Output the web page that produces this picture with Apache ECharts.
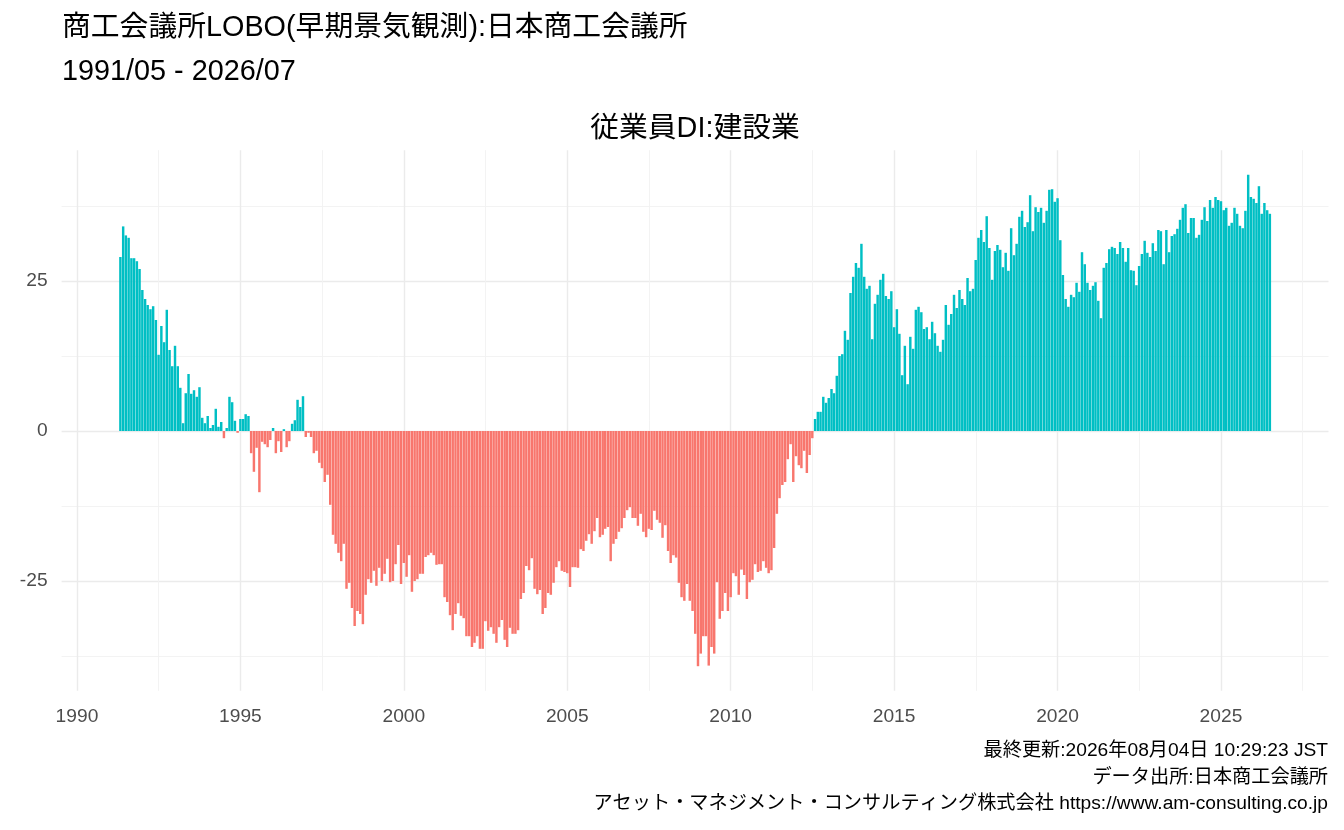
<!DOCTYPE html>
<html lang="ja">
<head>
<meta charset="utf-8">
<title>従業員DI:建設業</title>
<script src="https://cdn.jsdelivr.net/npm/echarts@6/dist/echarts.min.js"></script>
<style>
  html, body { margin: 0; padding: 0; background: #fff; }
  #main { width: 1344px; height: 830px; }
</style>
</head>
<body>
<div id="main"></div>
<script type="text/javascript">
  // 商工会議所LOBO 従業員DI(建設業) 月次 1991/05 - 2026/07
  var startYear = 1991;
  var startMonth = 5;

  var di1990s = [
    29.0, 34.1, 32.6, 32.2, 28.8, 28.8, 28.3, 27.0,
    23.5, 22.0, 21.0, 20.3, 20.8, 18.5, 12.7, 17.5, 14.8, 20.2, 13.5, 10.8,
    14.2, 10.8, 7.2, 1.3, 6.3, 9.5, 6.2, 6.8, 5.7, 7.3, 2.2, 1.3,
    2.5, 0.5, 1.0, 3.7, 0.7, 1.5, -1.2, 0.5, 5.7, 4.8, 1.7, -0.3,
    2.0, 2.0, 2.8, 2.5, -3.7, -6.8, -2.8, -10.2, -1.8, -2.2, -2.7, -1.5,
    0.5, -3.7, -1.7, -3.5, 0.3, -2.7, -1.7, 1.2, 1.8, 5.2, 4.0, 5.8,
    -1.0, -0.3, -1.0, -3.7, -3.3, -5.3, -6.2, -8.5, -7.3, -12.3, -17.3, -18.8,
    -20.3, -21.7, -18.8, -26.3, -25.3, -29.5, -32.5, -30.0, -30.5, -32.2, -27.3, -24.7,
    -25.3, -23.3, -25.8, -22.8, -25.0, -23.8, -21.3, -25.2, -25.0, -22.2, -19.0, -25.5
  ];
  var di2000s = [
    -22.0, -24.3, -20.7, -26.8, -25.0, -24.7, -23.8, -23.8, -21.0, -20.7, -20.3, -20.7,
    -22.3, -22.2, -22.2, -27.7, -28.5, -30.7, -33.2, -30.5, -28.7, -30.8, -31.2, -34.2,
    -34.2, -36.0, -35.3, -34.2, -36.3, -36.3, -31.7, -33.3, -32.7, -33.8, -35.3, -32.7,
    -31.5, -34.8, -36.0, -32.8, -33.8, -33.8, -33.2, -28.0, -27.0, -22.5, -23.2, -21.2,
    -26.3, -27.2, -26.5, -30.5, -29.5, -27.0, -27.3, -25.3, -22.7, -21.7, -23.3, -23.5,
    -23.7, -26.0, -22.7, -22.7, -22.8, -19.7, -20.0, -18.3, -17.2, -18.8, -16.7, -14.5,
    -17.7, -17.3, -16.3, -16.0, -21.7, -18.8, -18.0, -16.8, -16.2, -14.5, -13.2, -12.7,
    -14.5, -14.5, -15.8, -13.8, -16.8, -17.7, -16.3, -16.5, -13.3, -14.8, -15.3, -17.8,
    -15.7, -20.0, -22.0, -20.7, -21.1, -25.3, -27.7, -28.3, -25.5, -28.3, -30.0, -33.8,
    -39.2, -37.1, -34.2, -34.2, -39.1, -36.0, -37.1, -25.2, -31.3, -30.0, -27.0, -30.0
  ];
  var di2010s = [
    -27.7, -23.7, -24.2, -27.3, -23.1, -24.0, -28.0, -25.2, -24.8, -22.2, -23.5, -23.3,
    -21.7, -22.8, -23.7, -23.2, -19.5, -13.8, -11.2, -9.0, -8.5, -4.7, -2.2, -8.5,
    -4.2, -5.7, -6.2, -3.3, -7.0, -4.0, -1.2, 2.0, 3.2, 3.2, 5.7, 4.7,
    5.5, 7.0, 6.3, 9.2, 12.5, 12.8, 16.7, 15.2, 23.0, 25.7, 28.0, 27.2,
    31.2, 25.7, 23.7, 24.2, 15.3, 21.2, 22.7, 25.2, 26.2, 22.5, 22.0, 23.3,
    17.3, 20.3, 16.2, 9.3, 14.2, 7.8, 15.7, 13.7, 20.2, 20.7, 19.8, 17.0,
    17.3, 15.3, 18.2, 16.3, 14.2, 13.2, 15.2, 21.0, 17.7, 19.5, 22.7, 20.5,
    23.5, 22.0, 21.0, 25.5, 23.3, 23.7, 28.5, 32.2, 33.5, 31.5, 35.8, 30.5,
    25.2, 30.0, 31.0, 30.2, 27.3, 29.7, 26.7, 33.8, 29.3, 31.2, 35.7, 36.7,
    34.0, 34.8, 39.3, 33.3, 37.3, 36.5, 37.2, 34.7, 36.7, 40.2, 40.3, 38.2
  ];
  var di2020s = [
    38.8, 31.8, 26.0, 22.0, 20.7, 22.7, 22.3, 24.7, 23.2, 29.8, 27.8, 24.7,
    23.5, 24.2, 24.8, 21.7, 18.8, 27.2, 28.0, 30.3, 30.7, 30.5, 29.5, 31.5,
    30.5, 28.2, 30.5, 26.8, 26.7, 24.3, 27.5, 29.5, 31.7, 29.7, 29.0, 31.3,
    30.0, 33.5, 33.3, 27.8, 33.5, 29.8, 32.5, 32.8, 33.7, 35.2, 37.2, 37.8,
    33.0, 35.5, 35.5, 32.2, 32.7, 35.2, 37.3, 35.0, 38.5, 37.2, 39.0, 38.5,
    38.3, 36.8, 37.2, 34.2, 34.7, 37.2, 36.2, 34.2, 33.8, 36.7, 42.7, 39.0,
    38.7, 38.0, 40.8, 36.2, 38.0, 36.8, 36.2
  ];

  var xTicks = [1990, 1995, 2000, 2005, 2010, 2015, 2020, 2025];
  var xMinorTicks = [1992.5, 1997.5, 2002.5, 2007.5, 2012.5, 2017.5, 2022.5, 2027.5];
  var yTicks = [-25, 0, 25];
  var yMinorTicks = [-37.5, -12.5, 12.5, 37.5];

  var titleText = '商工会議所LOBO(早期景気観測):日本商工会議所';
  var periodText = '1991/05 - 2026/07';
  var chartTitle = '従業員DI:建設業';
  var captionLines = [
    '最終更新:2026年08月04日 10:29:23 JST',
    'データ出所:日本商工会議所',
    'アセット・マネジメント・コンサルティング株式会社 https://www.am-consulting.co.jp'
  ];

  var fontFamily = '"Liberation Sans", "Noto Sans CJK JP", sans-serif';
  var posColor = '#00BFC4';
  var negColor = '#F8766D';

  // 月初日を小数の年に
  function yearFrac(y, m) {
    var t0 = Date.UTC(y, 0, 1), t1 = Date.UTC(y + 1, 0, 1);
    return y + (Date.UTC(y, m - 1, 1) - t0) / (t1 - t0);
  }

  var allValues = di1990s.concat(di2000s, di2010s, di2020s);
  var seriesData = allValues.map(function(v, i) {
    var k = startMonth - 1 + i;
    var y = startYear + Math.floor(k / 12);
    var m = k % 12 + 1;
    return [yearFrac(y, m), v];
  });

  var xMin = 1989.53, xMax = 2028.29;
  var yMin = -43.3, yMax = 46.8;

  var chart = echarts.init(document.getElementById('main'));

  function textEl(x, y, text, size, align) {
    return {
      type: 'text', x: x, y: y,
      style: { text: text, fill: '#000', fontSize: size, fontFamily: fontFamily, align: align, verticalAlign: 'middle' }
    };
  }

  var option = {
    animation: false,
    backgroundColor: '#fff',
    textStyle: { fontFamily: fontFamily },
    grid: { left: 61.6, right: 15.5, top: 150.2, bottom: 139.2, containLabel: false, outerBoundsMode: 'none' },
    xAxis: [
      {
        type: 'value', min: xMin, max: xMax,
        axisLine: { show: false },
        axisTick: { show: false, customValues: xTicks },
        axisLabel: {
          customValues: xTicks, color: '#4D4D4D', fontSize: 19.2, margin: 16, fontFamily: fontFamily,
          formatter: function(v) { return String(v); }
        },
        splitLine: { show: true, lineStyle: { color: '#EBEBEB', width: 1.4 } }
      },
      {
        type: 'value', min: xMin, max: xMax,
        axisLine: { show: false },
        axisTick: { show: false, customValues: xMinorTicks },
        axisLabel: { show: false },
        splitLine: { show: true, lineStyle: { color: '#F2F2F2', width: 0.9 } }
      }
    ],
    yAxis: [
      {
        type: 'value', min: yMin, max: yMax,
        axisLine: { show: false },
        axisTick: { show: false, customValues: yTicks },
        axisLabel: {
          customValues: yTicks, color: '#4D4D4D', fontSize: 19.2, margin: 14, fontFamily: fontFamily,
          formatter: function(v) { return String(v); }
        },
        splitLine: { show: true, lineStyle: { color: '#EBEBEB', width: 1.4 } }
      },
      {
        type: 'value', min: yMin, max: yMax,
        axisLine: { show: false },
        axisTick: { show: false, customValues: yMinorTicks },
        axisLabel: { show: false },
        splitLine: { show: true, lineStyle: { color: '#F2F2F2', width: 0.9 } }
      }
    ],
    series: [
      {
        type: 'bar',
        xAxisIndex: 0,
        yAxisIndex: 0,
        barWidth: 2.45,
        data: seriesData,
        itemStyle: {
          color: function(p) { return p.value[1] >= 0 ? posColor : negColor; }
        }
      }
    ],
    graphic: [
      textEl(62, 28, titleText, 28.8, 'left'),
      textEl(62, 72, periodText, 28.8, 'left'),
      textEl(695, 129, chartTitle, 28.8, 'center'),
      textEl(1328, 751, captionLines[0], 19.2, 'right'),
      textEl(1328, 778, captionLines[1], 19.2, 'right'),
      textEl(1328, 804, captionLines[2], 19.2, 'right')
    ]
  };

  chart.setOption(option);
</script>
</body>
</html>
